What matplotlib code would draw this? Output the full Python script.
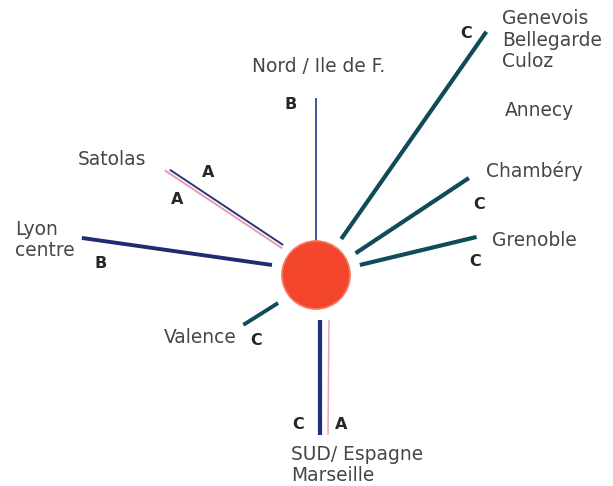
import numpy as np
import matplotlib.pyplot as plt
from matplotlib.patches import Circle

# spokes: destination, service class, angle (deg, anticlockwise from east), inner / outer radius (px), side offset (px)
dest = ['Nord', 'Genevois', 'Chambery', 'Grenoble', 'Satolas', 'Satolas', 'Lyon', 'Valence', 'SUD', 'SUD']
service = ['B', 'C', 'C', 'C', 'A', 'A', 'B', 'C', 'C', 'A']
angle = [90, 55.0, 33.6, 13.5, 146.4, 146.4, 171.9, 212.2, 270, 270]
r_in = [32, 44, 45, 45, 44, 43, 45, 47, 45, 45]
r_out = [177, 297, 181, 165, 180, 184, 237, 88, 160, 160]
offset = [0, 0, 3.8, 0.5, 6.8, 3.5, 3.7, -3.5, -4, -12.5]
line_col = ['#34449a', '#0f4b58', '#0f4b58', '#0f4b58', '#2b3578', '#e99aae',
            '#1f2c72', '#0f4b58', '#1f2f7c', '#eea3b3']
line_w = [1.3, 3.0, 3.0, 3.0, 1.4, 1.4, 2.8, 2.8, 3.0, 1.1]

cx, cy = 316, 275

fig = plt.figure(figsize=(6.13, 4.86), dpi=100)
ax = fig.add_axes([0, 0, 1, 1])
ax.set_xlim(0, 613)
ax.set_ylim(486, 0)
ax.axis('off')

for a, r0, r1, off, c, w in zip(angle, r_in, r_out, offset, line_col, line_w):
    t = np.radians(a)
    ux, uy = np.cos(t), -np.sin(t)       # y axis points down
    nx, ny = np.sin(t), np.cos(t)
    xs = [cx + r0 * ux + off * nx, cx + r1 * ux + off * nx]
    ys = [cy + r0 * uy + off * ny, cy + r1 * uy + off * ny]
    ax.plot(xs, ys, color=c, lw=w, solid_capstyle='butt')

ax.add_patch(Circle((cx, cy), 34, facecolor='#f3462d', edgecolor='#f7775f', lw=1.2, zorder=5))

font = 'DejaVu Sans'
txt = dict(fontsize=13.4, color='#454545', family=font, va='center')
let = dict(fontsize=11.5, color='#262626', family=font, fontweight='bold', va='center', ha='center')

ax.text(252, 67, 'Nord / Ile de F.', **txt)
ax.text(502, 40, 'Genevois\nBellegarde\nCuloz', linespacing=1.15, **txt)
ax.text(505, 110, 'Annecy', **txt)
ax.text(486, 171, 'Chambéry', **txt)
ax.text(492, 240, 'Grenoble', **txt)
ax.text(78, 159, 'Satolas', **txt)
ax.text(15, 240, 'Lyon\ncentre', linespacing=1.1, **txt)
ax.text(164, 337, 'Valence', **txt)
ax.text(291, 465, 'SUD/ Espagne\nMarseille', linespacing=1.1, **txt)

for x, y, s in [(291, 104, service[0]), (466, 34, service[1]), (479, 204, service[2]),
                (475, 261, service[3]), (208, 172, service[4]), (177, 199, service[5]),
                (101, 263, service[6]), (256, 340, service[7]), (298, 424, service[8]),
                (341, 424, service[9])]:
    ax.text(x, y, s, **let)

fig.savefig('out.png', dpi=100)
